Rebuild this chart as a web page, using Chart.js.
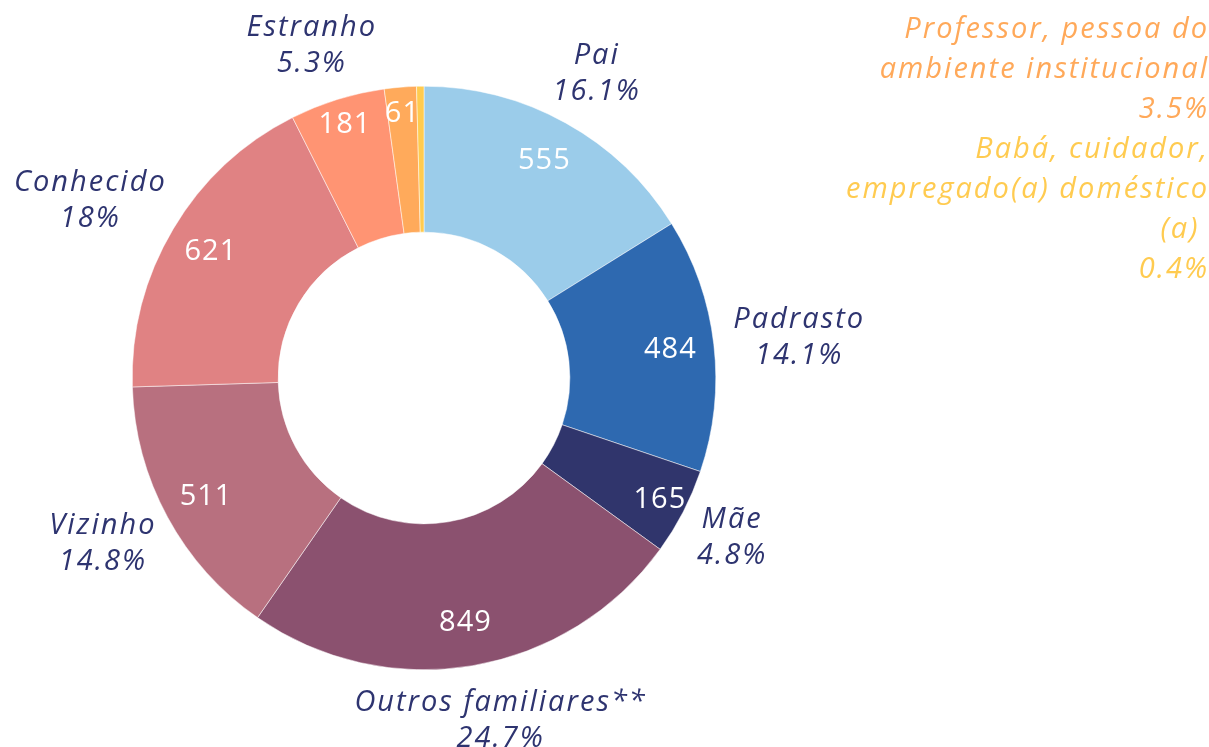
<!DOCTYPE html>
<html>
<head>
<meta charset="utf-8">
<script src="https://cdn.jsdelivr.net/npm/chart.js@4.4.1/dist/chart.umd.min.js"></script>
<style>
  html, body { margin: 0; padding: 0; background: #fff; }
  #wrap { width: 1209px; height: 747px; position: relative; }
</style>
</head>
<body>
<div id="wrap"><canvas id="chart"></canvas></div>
<script>
// data
const categories = ['Pai', 'Padrasto', 'Mãe', 'Outros familiares**', 'Vizinho', 'Conhecido', 'Estranho',
  'Professor, pessoa do\nambiente institucional', 'Babá, cuidador,\nempregado(a) doméstico\n(a) '];
const counts = [555, 484, 165, 849, 511, 621, 181, 61, 14];
const percentLabels = ['16.1%', '14.1%', '4.8%', '24.7%', '14.8%', '18%', '5.3%', '3.5%', '0.4%'];

const sliceColors = ['#9BCCEA', '#2E69B0', '#30356C', '#8B516F', '#B8707F', '#E08283', '#FF9473', '#FFAA5B', '#FFCB4F'];
const labelColors = ['#2E3470', '#2E3470', '#2E3470', '#2E3470', '#2E3470', '#2E3470', '#2E3470', '#FFA95A', '#FFCB50'];

const FONT = '"Open Sans", sans-serif';

// labels drawn by hand: values inside, names + % outside
const sliceLabels = {
  id: 'sliceLabels',
  afterDatasetsDraw(chart) {
    const ctx = chart.ctx;
    const meta = chart.getDatasetMeta(0);
    const total = counts.reduce((a, b) => a + b, 0);
    let stackY = 30;
    ctx.save();
    ctx.textBaseline = 'middle';
    meta.data.forEach((arc, i) => {
      const p = arc.getProps(['x', 'y', 'startAngle', 'endAngle', 'innerRadius', 'outerRadius'], true);
      const mid = (p.startAngle + p.endAngle) / 2;
      const frac = counts[i] / total;
      const cos = Math.cos(mid), sin = Math.sin(mid);

      // value inside
      if (frac > 0.01) {
        const r = p.innerRadius + (p.outerRadius - p.innerRadius) * (frac < 0.06 ? 0.82 : 0.7);
        ctx.font = '29px ' + FONT;
        ctx.letterSpacing = '1px';
        ctx.fillStyle = '#fff';
        ctx.textAlign = 'center';
        ctx.fillText(String(counts[i]), p.x + cos * r, p.y + sin * r);
      }

      const lines = categories[i].split('\n').concat([percentLabels[i]]);
      ctx.font = 'italic 29px ' + FONT;
      ctx.letterSpacing = '2px';
      ctx.fillStyle = labelColors[i];

      if (frac < 0.03) {
        // small slices: stacked in the top right corner
        ctx.textAlign = 'right';
        lines.forEach(line => {
          ctx.fillText(line, chart.width, stackY);
          stackY += 40;
        });
        return;
      }

      const lh = 36;
      const w = Math.max(...lines.map(l => ctx.measureText(l).width));
      const h = lh * lines.length;
      const gap = 20;
      const ax = p.x + cos * (p.outerRadius + gap);
      const ay = p.y + sin * (p.outerRadius + gap);
      const cx = ax + cos * w / 2;
      const cy = ay + sin * h / 2;
      ctx.textAlign = 'center';
      lines.forEach((line, k) => {
        ctx.fillText(line, cx, cy - h / 2 + lh / 2 + k * lh);
      });
    });
    ctx.restore();
  }
};

new Chart(document.getElementById('chart'), {
  type: 'doughnut',
  data: {
    labels: categories,
    datasets: [{
      data: counts,
      backgroundColor: sliceColors,
      borderColor: '#ffffff',
      borderWidth: 0.5
    }]
  },
  options: {
    responsive: true,
    maintainAspectRatio: false,
    animation: false,
    cutout: '50%',
    layout: {
      padding: { left: 132, right: 493, top: 86, bottom: 77 }
    },
    plugins: {
      legend: { display: false },
      tooltip: { enabled: false }
    }
  },
  plugins: [sliceLabels]
});
</script>
</body>
</html>
